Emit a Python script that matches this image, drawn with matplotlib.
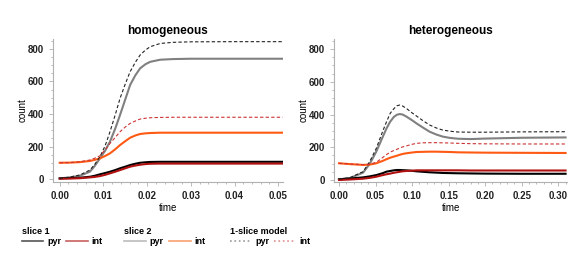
import numpy as np
import matplotlib.pyplot as plt
from matplotlib.lines import Line2D

plt.rcParams['font.family'] = ['Liberation Sans', 'DejaVu Sans']
plt.rcParams['font.weight'] = 'bold'

# homogeneous panel, values
t_hom = [0.0, 0.0023, 0.0046, 0.0069, 0.008, 0.0092, 0.0104, 0.0115, 0.0127, 0.0138, 0.015,
         0.0161, 0.0173, 0.0184, 0.0196, 0.0207, 0.023, 0.026, 0.03, 0.04, 0.051]
hom_1slice_pyr = [4, 12, 25, 55, 90, 137, 205, 291, 395, 496, 585, 660, 718, 763, 793, 814, 834, 841, 844, 845, 845]
hom_1slice_int = [100, 101, 106, 117, 128, 143, 180, 219, 256, 291, 320, 342, 357, 369, 374, 377, 379, 380, 380, 380, 380]
hom_s2_pyr = [4, 10, 20, 45, 80, 127, 175, 230, 310, 394, 490, 578, 638, 681, 706, 721, 734, 738, 740, 740, 740]
hom_s2_int = [100, 101, 104, 111, 118, 127, 142, 158, 183, 209, 233, 254, 268, 277, 281, 283, 285, 285, 285, 285, 285]
hom_s1_pyr = [4, 6, 8, 14, 20, 29, 37, 45, 55, 66, 76, 86, 94, 100, 103, 105, 106, 106, 106, 106, 106]
hom_s1_int = [2, 3, 5, 10, 13, 18, 26, 35, 45, 55, 66, 76, 83, 88, 92, 94, 95, 95, 95, 95, 95]

# heterogeneous panel
t_het = [0.0, 0.015, 0.033, 0.042, 0.051, 0.06, 0.065, 0.07, 0.075, 0.079, 0.083, 0.087, 0.092,
         0.1, 0.106, 0.115, 0.124, 0.133, 0.142, 0.152, 0.163, 0.18, 0.2, 0.25, 0.31]
het_1slice_pyr = [5, 14, 51, 112, 193, 300, 355, 407, 435, 453, 458, 452, 438, 410, 391, 362, 336, 318,
                  305, 298, 293, 292, 292, 294, 295]
het_1slice_int = [102, 98, 94, 96, 108, 138, 155, 170, 180, 187, 195, 202, 208, 218, 224, 227, 228, 228,
                  227, 226, 224, 222, 221, 220, 220]
het_s2_pyr = [4, 12, 45, 98, 173, 265, 315, 356, 385, 398, 403, 400, 388, 365, 346, 320, 295, 278,
              265, 257, 252, 250, 253, 258, 260]
het_s2_int = [102, 97, 92, 94, 102, 117, 127, 136, 143, 148, 154, 159, 163, 168, 171, 172, 173, 173,
              172, 171, 169, 168, 167, 166, 165]
het_s1_pyr = [4, 9, 16, 22, 30, 42, 51, 55, 59, 61, 61, 60, 59, 56, 53, 50, 47, 45, 43, 42, 41, 40, 39, 38, 38]
het_s1_int = [0, 3, 8, 13, 20, 30, 35, 39, 44, 47, 50, 53, 55, 57, 59, 59, 59, 59, 59, 59, 59, 58, 58, 58, 58]

c_black = '#000000'
c_red = '#b01010'
c_gray = '#808080'
c_orange = '#ff5a14'
c_dash_k = '#222222'
c_dash_r = '#cc3333'

fig = plt.figure(figsize=(5.86, 2.57), dpi=100)
ax1 = fig.add_axes([0.090, 0.292, 0.393, 0.556])
ax2 = fig.add_axes([0.570, 0.292, 0.398, 0.556])


def draw(ax, t, s1p, s1i, s2p, s2i, mp, mi):
    ax.plot(t, s2p, color=c_gray, lw=1.5)
    ax.plot(t, s2i, color=c_orange, lw=1.5)
    ax.plot(t, s1p, color=c_black, lw=1.5)
    ax.plot(t, s1i, color=c_red, lw=1.5)
    ax.plot(t, mp, color=c_dash_k, lw=0.8, ls=(0, (3, 2)))
    ax.plot(t, mi, color=c_dash_r, lw=0.8, ls=(0, (3, 2)))
    for s in ['top', 'right']:
        ax.spines[s].set_visible(False)
    for s in ['left', 'bottom']:
        ax.spines[s].set_color('#b0b0b0')
        ax.spines[s].set_linewidth(0.8)
    ax.tick_params(which='both', colors='#b0b0b0', labelcolor='#222222', labelsize=7, length=3, width=0.6)
    ax.tick_params(which='minor', length=1.5)
    ax.minorticks_on()
    ax.set_yticks([0, 200, 400, 600, 800])
    ax.set_ylabel('count', fontsize=7, labelpad=0)
    ax.set_xlabel('time', fontsize=7, labelpad=1.5)


draw(ax1, t_hom, hom_s1_pyr, hom_s1_int, hom_s2_pyr, hom_s2_int, hom_1slice_pyr, hom_1slice_int)
ax1.set_xlim(-0.0016, 0.0511)
ax1.set_ylim(-18, 861)
ax1.set_xticks([0.0, 0.01, 0.02, 0.03, 0.04, 0.05])
ax1.set_xticklabels(['0.00', '0.01', '0.02', '0.03', '0.04', '0.05'])
ax1.set_title('homogeneous', fontsize=8.5, fontweight='bold', pad=4)

draw(ax2, t_het, het_s1_pyr, het_s1_int, het_s2_pyr, het_s2_int, het_1slice_pyr, het_1slice_int)
ax2.set_xlim(-0.0068, 0.3123)
ax2.set_ylim(-12, 861)
ax2.set_xticks([0.0, 0.05, 0.1, 0.15, 0.2, 0.25, 0.3])
ax2.set_xticklabels(['0.00', '0.05', '0.10', '0.15', '0.20', '0.25', '0.30'])
ax2.set_title('heterogeneous', fontsize=8.5, fontweight='bold', pad=4)

groups = [
    ('slice 1', 0.037, [('pyr', '#555555', '-'), ('int', '#c86060', '-')]),
    ('slice 2', 0.212, [('pyr', '#bbbbbb', '-'), ('int', '#f8a070', '-')]),
    ('1-slice model', 0.392, [('pyr', '#999999', ':'), ('int', '#e09090', ':')]),
]
for title, x, entries in groups:
    handles = [Line2D([], [], color=c, ls=ls, lw=1.2) for _, c, ls in entries]
    labels = [lab for lab, _, _ in entries]
    fig.legend(handles, labels, title=title, loc='upper left', bbox_to_anchor=(x, 0.118),
               ncol=2, frameon=False, fontsize=6.5, title_fontsize=6.5, alignment='left',
               handlelength=2.4, handletextpad=0.4, columnspacing=0.6, borderpad=0, borderaxespad=0,
               labelspacing=0.2)

fig.savefig('out.png', dpi=100)
